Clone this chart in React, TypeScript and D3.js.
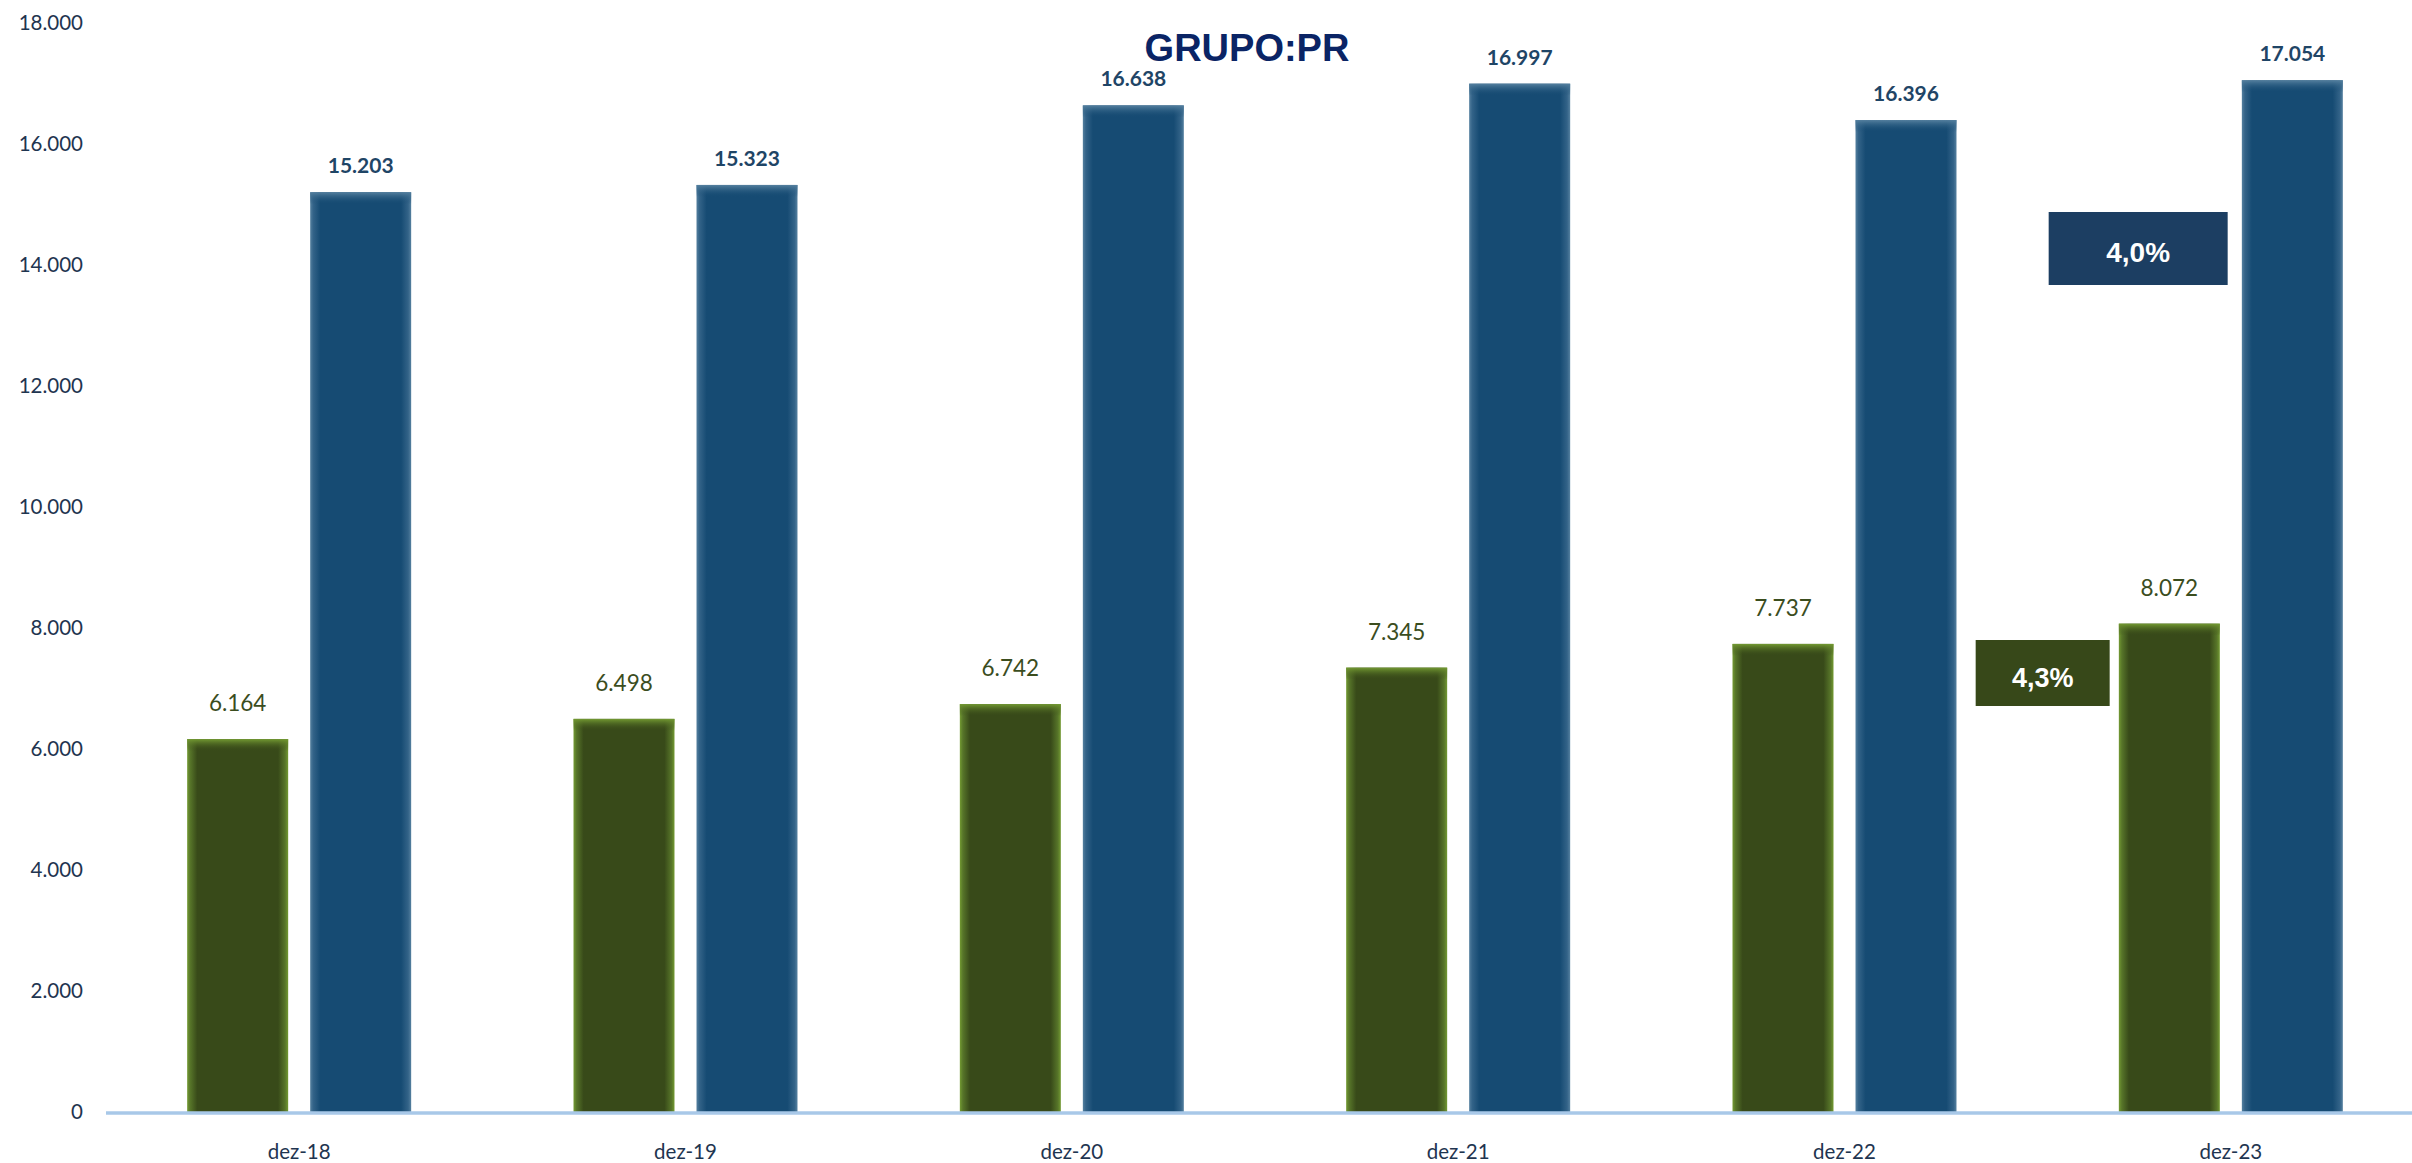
import React from "react";
import * as d3 from "d3";

const categories = ["dez-18", "dez-19", "dez-20", "dez-21", "dez-22", "dez-23"];
const greenValues = [6164, 6498, 6742, 7345, 7737, 8072];
const blueValues = [15203, 15323, 16638, 16997, 16396, 17054];
const yTicks = [0, 2000, 4000, 6000, 8000, 10000, 12000, 14000, 16000, 18000];
const title = "GRUPO:PR";
const blueGrowth = "4,0%";
const greenGrowth = "4,3%";

const W = 2412;
const H = 1163;
const FONT = "Lato, 'Noto Sans', sans-serif";

const fmt = (v: number) => d3.format(",")(v).replace(/,/g, ".");

export default function App() {
  const x = d3.scaleBand<string>().domain(categories).range([106, 2424]).padding(0);
  const y = d3.scaleLinear().domain([0, 18000]).range([1112, 23]);
  const bw = 101;
  const gap = 22;
  const groupW = bw * 2 + gap;
  const gx = (c: string) => (x(c) as number) + (x.bandwidth() - groupW) / 2;
  const last = categories[categories.length - 1];
  const lastStart = x(last) as number;

  return (
    <svg width={W} height={H} style={{ position: "absolute", left: 0, top: 0, background: "#fff" }}>
      <defs>
        <linearGradient id="gH" x1="0" x2="1" y1="0" y2="0">
          <stop offset="0%" stopColor="#739a32" />
          <stop offset="3%" stopColor="#577529" />
          <stop offset="10%" stopColor="#384a19" />
          <stop offset="90%" stopColor="#384a19" />
          <stop offset="97%" stopColor="#577529" />
          <stop offset="100%" stopColor="#739a32" />
        </linearGradient>
        <linearGradient id="bH" x1="0" x2="1" y1="0" y2="0">
          <stop offset="0%" stopColor="#55809f" />
          <stop offset="3%" stopColor="#336388" />
          <stop offset="10%" stopColor="#164b73" />
          <stop offset="90%" stopColor="#164b73" />
          <stop offset="97%" stopColor="#336388" />
          <stop offset="100%" stopColor="#55809f" />
        </linearGradient>
        <linearGradient id="gV" x1="0" x2="0" y1="0" y2="1">
          <stop offset="0%" stopColor="#739a32" stopOpacity="1" />
          <stop offset="100%" stopColor="#384a19" stopOpacity="0" />
        </linearGradient>
        <linearGradient id="bV" x1="0" x2="0" y1="0" y2="1">
          <stop offset="0%" stopColor="#55809f" stopOpacity="1" />
          <stop offset="100%" stopColor="#164b73" stopOpacity="0" />
        </linearGradient>
      </defs>

      {yTicks.map((t) => (
        <text key={t} x={83} y={y(t) + 7} textAnchor="end" fontFamily={FONT} fontSize={20.5} fill="#1f3550">
          {fmt(t)}
        </text>
      ))}

      {categories.map((c, i) => {
        const x0 = gx(c);
        const x1 = x0 + bw + gap;
        const yg = y(greenValues[i]);
        const yb = y(blueValues[i]);
        return (
          <g key={c}>
            <rect x={x0} y={yg} width={bw} height={y(0) - yg} fill="url(#gH)" />
            <rect x={x0} y={yg} width={bw} height={12} fill="url(#gV)" />
            <rect x={x1} y={yb} width={bw} height={y(0) - yb} fill="url(#bH)" />
            <rect x={x1} y={yb} width={bw} height={12} fill="url(#bV)" />
            <text x={x0 + bw / 2} y={yg - 28} textAnchor="middle" fontFamily={FONT} fontSize={22.5} fill="#3b4d1e">
              {fmt(greenValues[i])}
            </text>
            <text x={x1 + bw / 2} y={yb - 19} textAnchor="middle" fontFamily={FONT} fontSize={21} fontWeight="bold" fill="#1f4566">
              {fmt(blueValues[i])}
            </text>
            <text x={(x(c) as number) + x.bandwidth() / 2} y={1159} textAnchor="middle" fontFamily={FONT} fontSize={20.5} fill="#1f3550">
              {c}
            </text>
          </g>
        );
      })}

      <line x1={106} x2={W} y1={y(0) + 1} y2={y(0) + 1} stroke="#a8c8e8" strokeWidth={3.5} />

      <text x={1247} y={61} textAnchor="middle" fontFamily="'Liberation Sans', Arial, sans-serif" fontWeight="bold" fontSize={38} fill="#0a2465">
        {title}
      </text>

      <g>
        <rect x={lastStart + 11} y={212} width={179} height={73} fill="#1c3e62" />
        <text x={lastStart + 100.5} y={262} textAnchor="middle" fontFamily="'Liberation Sans', Arial, sans-serif" fontWeight="bold" fontSize={28} fill="#fff">
          {blueGrowth}
        </text>
      </g>
      <g>
        <rect x={lastStart - 62} y={640} width={134} height={66} fill="#374819" />
        <text x={lastStart + 5} y={687} textAnchor="middle" fontFamily="'Liberation Sans', Arial, sans-serif" fontWeight="bold" fontSize={27} fill="#fff">
          {greenGrowth}
        </text>
      </g>
    </svg>
  );
}
